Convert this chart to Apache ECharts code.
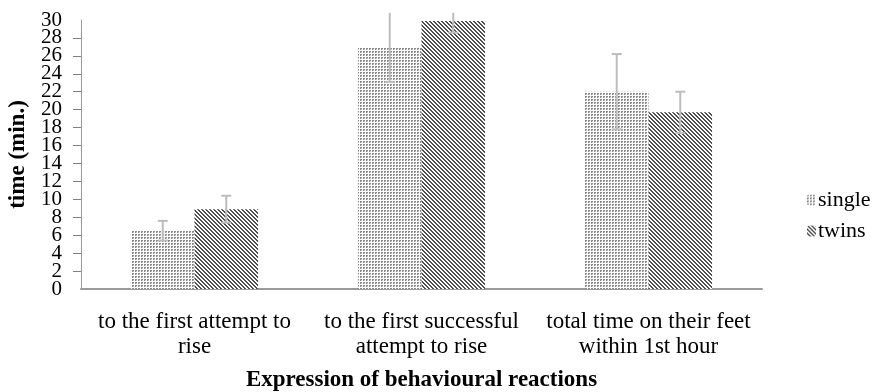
<!DOCTYPE html>
<html><head><meta charset="utf-8">
<script src="https://cdn.jsdelivr.net/npm/echarts@6/dist/echarts.min.js"></script>
<style>html,body{margin:0;padding:0;background:#fff}#c{width:876px;height:392px}</style>
</head><body><div id="c"></div>
<script>
var categories = ['to the first attempt to\nrise', 'to the first successful\nattempt to rise', 'total time on their feet\nwithin 1st hour'];
var seriesNames = ['single', 'twins'];
var singleValues = [6.5, 27.0, 22.0];
var twinsValues = [8.9, 29.9, 19.7];
var singleErrors = [1.1, 3.9, 4.2];
var twinsErrors = [1.5, 1.3, 2.3];
var yTicks = [0, 2, 4, 6, 8, 10, 12, 14, 16, 18, 20, 22, 24, 26, 28, 30];
var yTitle = 'time (min.)';
var xTitle = 'Expression of behavioural reactions';

function dotPattern() {
  var c = document.createElement('canvas'); c.width = 3; c.height = 3;
  var g = c.getContext('2d');
  g.fillStyle = '#ffffff'; g.fillRect(0, 0, 3, 3);
  g.fillStyle = '#8a8a8a'; g.fillRect(0, 0, 2, 2);
  g.fillStyle = '#c8c8c8'; g.fillRect(1, 1, 1, 1);
  return c;
}
function hatchPattern() {
  var n = 4;
  var c = document.createElement('canvas'); c.width = n; c.height = n;
  var g = c.getContext('2d');
  g.fillStyle = '#ffffff'; g.fillRect(0, 0, n, n);
  g.fillStyle = '#505050';
  for (var i = 0; i < n; i++) {
    g.fillRect(i, i, 1, 1);
    g.fillRect((i + 1) % n, i, 1, 1);
  }
  return c;
}
var singleFill = { image: dotPattern(), repeat: 'repeat' };
var twinsFill = { image: hatchPattern(), repeat: 'repeat' };

var serif = '"Liberation Serif", "DejaVu Serif", serif';
var chart = echarts.init(document.getElementById('c'));

function errorSeries(values, errors, seriesIndexOffset) {
  var data = values.map(function (v, i) { return [i, v - errors[i], v + errors[i]]; });
  return {
    type: 'custom',
    z: 10,
    clip: false,
    data: data,
    renderItem: function (params, api) {
      var idx = api.value(0);
      var lo = api.value(1), hi = Math.min(api.value(2), 30.8);
      var bandW = api.size([1, 0])[0];
      var barW = bandW * 0.28;
      var center = api.coord([idx, 0])[0] + (seriesIndexOffset === 0 ? -barW / 2 : barW / 2);
      var pLo = api.coord([idx, lo])[1];
      var pHi = api.coord([idx, hi])[1];
      var capHalf = 5;
      var style = { stroke: '#bdbdbd', lineWidth: 2 };
      var children = [
        { type: 'line', shape: { x1: center, y1: pLo, x2: center, y2: pHi }, style: style }
      ];
      if (api.value(2) <= 30.8) children.push({ type: 'line', shape: { x1: center - capHalf, y1: pHi, x2: center + capHalf, y2: pHi }, style: style });
      children.push({ type: 'line', shape: { x1: center - capHalf, y1: pLo, x2: center + capHalf, y2: pLo }, style: style });
      return { type: 'group', children: children };
    }
  };
}

var yMin = yTicks[0], yMax = yTicks[yTicks.length - 1];
var yLabelStyle = { fontFamily: serif, fontSize: 21, color: '#000', margin: 19 };

chart.setOption({
  animation: false,
  backgroundColor: '#ffffff',
  grid: { left: 81, right: 114, top: 20, bottom: 103, containLabel: false, outerBoundsMode: 'none' },
  legend: {
    orient: 'vertical', left: 802, top: 184,
    itemWidth: 9, itemHeight: 11, itemGap: 9,
    data: seriesNames,
    textStyle: { fontFamily: serif, fontSize: 22, color: '#000', padding: [0, 0, 0, -3] }
  },
  xAxis: {
    type: 'category',
    data: categories,
    name: xTitle,
    nameLocation: 'middle',
    nameGap: 80,
    nameTextStyle: { fontFamily: serif, fontSize: 23, fontWeight: 'bold', color: '#000' },
    axisLine: { lineStyle: { color: '#9a9a9a', width: 2 } },
    axisTick: { show: false },
    axisLabel: { fontFamily: serif, fontSize: 23, color: '#000', lineHeight: 25, margin: 20, interval: 0 }
  },
  yAxis: [{
    type: 'value',
    min: yMin, max: yMax, interval: 2,
    name: yTitle,
    nameLocation: 'middle',
    nameGap: 51,
    nameRotate: 90,
    nameTextStyle: { fontFamily: serif, fontSize: 23, fontWeight: 'bold', color: '#000' },
    axisLine: { show: true, lineStyle: { color: '#9a9a9a', width: 1 } },
    axisTick: { show: true, inside: false, length: 8, lineStyle: { color: '#808080', width: 1 } },
    splitLine: { show: false },
    axisLabel: Object.assign({ showMinLabel: false, showMaxLabel: false, hideOverlap: false }, yLabelStyle)
  }, {
    type: 'value',
    position: 'left',
    offset: 0,
    min: yMin, max: yMax, interval: 2,
    axisLine: { show: false },
    axisTick: { show: false },
    splitLine: { show: false },
    axisLabel: Object.assign({ showMinLabel: true, showMaxLabel: true, hideOverlap: false,
      formatter: function (v) { return (v === yMin || v === yMax) ? String(v) : ''; } }, yLabelStyle)
  }],
  series: [
    { name: seriesNames[0], type: 'bar', data: singleValues, barWidth: '28%', barGap: '0%',
      itemStyle: { color: singleFill } },
    { name: seriesNames[1], type: 'bar', data: twinsValues, barWidth: '28%', barGap: '0%',
      itemStyle: { color: twinsFill } },
    errorSeries(singleValues, singleErrors, 0),
    errorSeries(twinsValues, twinsErrors, 1)
  ]
});
</script></body></html>
